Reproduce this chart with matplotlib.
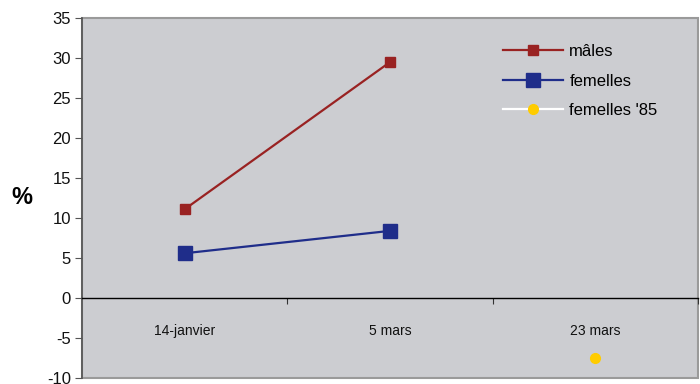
import matplotlib
matplotlib.use("Agg")
import matplotlib.pyplot as plt

plt.rcParams["font.family"] = ["Liberation Sans", "DejaVu Sans"]
plt.rcParams["axes.unicode_minus"] = False

categories = ["14-janvier", "5 mars", "23 mars"]
males = [11.1, 29.5, None]
femelles = [5.6, 8.4, None]
femelles_85 = [None, None, -7.5]

MALE_C = "#992222"
FEM_C = "#1f2d8a"
F85_C = "#ffcc00"
BG = "#cccdd1"


def xy(vals):
    pts = [(i, v) for i, v in enumerate(vals) if v is not None]
    return [p[0] for p in pts], [p[1] for p in pts]


fig = plt.figure(figsize=(7.0, 3.84), dpi=100)
ax = fig.add_axes([0.117, 0.0156, 0.88, 0.937])
ax.set_facecolor(BG)
ax.patch.set_edgecolor("#9a9a9a")
ax.patch.set_linewidth(1.5)

x, y = xy(males)
ax.plot(x, y, "-s", color=MALE_C, lw=1.6, ms=6.5, label="mâles", zorder=3)
x, y = xy(femelles)
ax.plot(x, y, "-s", color=FEM_C, lw=1.6, ms=10.5, label="femelles", zorder=3)
x, y = xy(femelles_85)
ax.plot(x, y, "-o", color="white", mfc=F85_C, mec=F85_C, lw=1.6, ms=7,
        label="femelles '85", zorder=3)

ax.set_xlim(-0.5, 2.5)
ax.set_ylim(-10, 35)
ax.set_yticks(range(-10, 36, 5))
ax.tick_params(axis="y", direction="out", length=5, color="#555555",
               labelsize=12, labelcolor="#111111", pad=3)

for s in ["top", "right"]:
    ax.spines[s].set_visible(False)
ax.spines["left"].set_color("#555555")
ax.spines["left"].set_linewidth(1.2)
ax.spines["bottom"].set_position(("data", 0))
ax.spines["bottom"].set_color("black")
ax.spines["bottom"].set_linewidth(1.0)

ax.set_xticks([0.5, 1.5, 2.5])
ax.set_xticklabels([])
ax.set_xticks(range(len(categories)), minor=True)
ax.set_xticklabels(categories, minor=True)
ax.tick_params(axis="x", which="major", direction="out", length=4,
               color="#333333")
ax.tick_params(axis="x", which="minor", length=0, pad=19, labelsize=10,
               labelcolor="#111111")

fig.text(0.031, 0.485, "%", fontsize=17, fontweight="bold", ha="center",
         va="center")

ax.legend(loc="upper left", bbox_to_anchor=(0.66, 0.97), frameon=False,
          handlelength=3.6, labelspacing=0.88, fontsize=12,
          handletextpad=0.35)

fig.savefig("out.png", dpi=100)
